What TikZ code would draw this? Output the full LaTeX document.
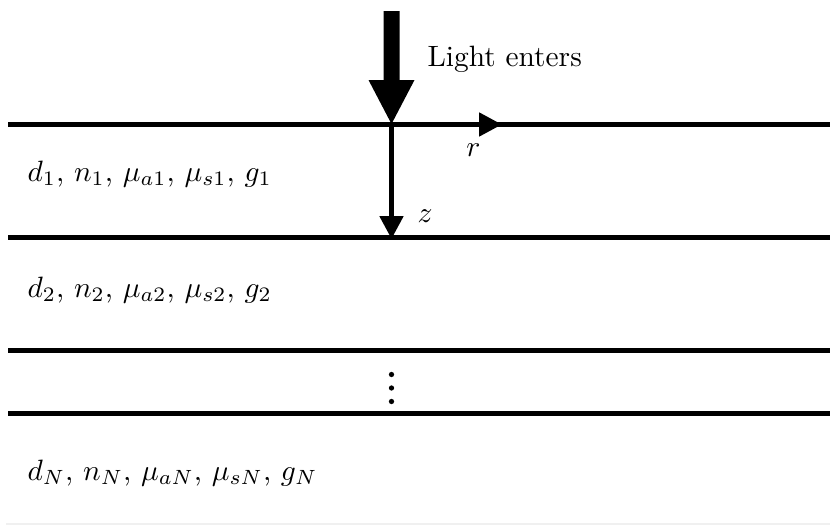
\documentclass[tikz,border=0pt]{standalone}
\usetikzlibrary{arrows.meta}
\begin{document}
\begin{tikzpicture}[x=0.34pt,y=-0.34pt,
  layer/.style={line width=1.7pt},
  axis/.style={line width=1.7pt,-{Triangle[length=7.8pt,width=7.8pt]}},
  lbl/.style={anchor=base west,inner sep=0pt},
  dotmark/.style={circle,fill,inner sep=0pt,minimum size=1.8pt}]
\useasboundingbox (0,0) rectangle (830,526);
% layer boundaries
\coordinate (L1a) at (8,124.5);  \coordinate (L1b) at (830,124.5);
\coordinate (L2a) at (8,237);    \coordinate (L2b) at (830,237);
\coordinate (L3a) at (8,350);    \coordinate (L3b) at (830,350);
\coordinate (L4a) at (8,413);    \coordinate (L4b) at (830,413);
\coordinate (L5a) at (6,524);    \coordinate (L5b) at (830,524);
\draw[layer] (L1a) -- (L1b);
\draw[layer] (L2a) -- (L2b);
\draw[layer] (L3a) -- (L3b);
\draw[layer] (L4a) -- (L4b);
\draw[line width=0.8pt,black!6] (L5a) -- (L5b);
% big incoming arrow
\fill (383.5,11) -- (399.5,11) -- (399.5,80) -- (414.5,80) -- (391.5,124) -- (368.5,80) -- (383.5,80) -- cycle;
\node[lbl] (light) at (427,66.5) {Light enters};
% axes
\coordinate (O) at (391.5,124.5);
\coordinate (R) at (502,124.5);
\coordinate (Z) at (391.5,239);
\draw[axis] (O) -- (R);
\draw[axis] (O) -- (Z);
\node[anchor=base,inner sep=0pt] (r) at (473.5,156.5) {$r$};
\node[anchor=base,inner sep=0pt] (z) at (425,222.5) {$z$};
% labels
\node[lbl] (p1) at (27,181.5) {$d_1$, $n_1$, $\mu_{a1}$, $\mu_{s1}$, $g_1$};
\node[lbl] (p2) at (27,297) {$d_2$, $n_2$, $\mu_{a2}$, $\mu_{s2}$, $g_2$};
\node[lbl] (pN) at (27,480) {$d_N$, $n_N$, $\mu_{aN}$, $\mu_{sN}$, $g_N$};
% vertical dots
\node[dotmark] (d1) at (391.5,374.5) {};
\node[dotmark] (d2) at (391.5,388) {};
\node[dotmark] (d3) at (391.5,401.5) {};
\end{tikzpicture}
\end{document}
